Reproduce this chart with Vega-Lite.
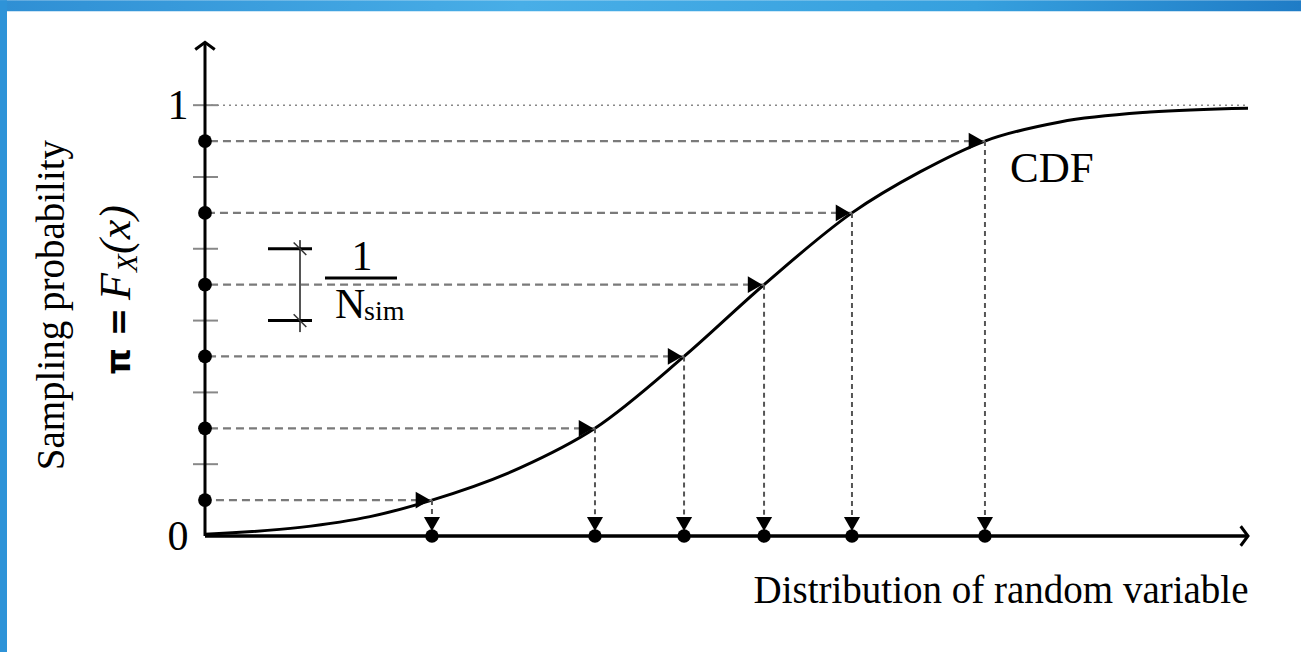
{
  "$schema": "https://vega.github.io/schema/vega-lite/v6.json",
  "autosize": "none",
  "width": 1043,
  "height": 517,
  "padding": {"left": 205, "top": 19, "right": 53, "bottom": 116},
  "background": "white",
  "config": {
    "view": {"stroke": null},
    "axis": {"grid": false, "ticks": false, "domain": false},
    "text": {"font": "Liberation Serif", "color": "black"}
  },
  "data": {"values": [{"label": "annotation"}]},
  "datasets": {
    "samples": [
      {"x": 2.176, "p": 0.0833},
      {"x": 3.739, "p": 0.25},
      {"x": 4.593, "p": 0.4167},
      {"x": 5.36, "p": 0.5833},
      {"x": 6.203, "p": 0.75},
      {"x": 7.478, "p": 0.9167}
    ],
    "cdf": [
      {"x": 0, "p": 0.004},
      {"x": 0.911, "p": 0.02},
      {"x": 1.582, "p": 0.045},
      {"x": 2.176, "p": 0.0833},
      {"x": 3.02, "p": 0.158},
      {"x": 3.739, "p": 0.25},
      {"x": 4.593, "p": 0.4167},
      {"x": 5.36, "p": 0.5833},
      {"x": 6.203, "p": 0.75},
      {"x": 6.855, "p": 0.845},
      {"x": 7.478, "p": 0.9167},
      {"x": 8.198, "p": 0.961},
      {"x": 9.06, "p": 0.984},
      {"x": 10, "p": 0.993}
    ],
    "ticks": [
      {"p": 0.1667}, {"p": 0.3333}, {"p": 0.5}, {"p": 0.6667}, {"p": 0.8333}, {"p": 1}
    ],
    "bracket": [
      {"p": 0.6667}, {"p": 0.5}
    ]
  },
  "layer": [
    {
      "mark": {"type": "rect", "color": {"gradient": "linear", "stops": [
        {"offset": 0, "color": "#2f8fd4"},
        {"offset": 0.4, "color": "#48aee7"},
        {"offset": 0.75, "color": "#36a0de"},
        {"offset": 1, "color": "#1f7cc6"}
      ]}},
      "encoding": {
        "x": {"datum": -1.9655, "type": "quantitative"},
        "x2": {"datum": 10.508},
        "y": {"datum": 1.2436, "type": "quantitative"},
        "y2": {"datum": 1.2181}
      }
    },
    {
      "mark": {"type": "rect", "color": "#2e93d8"},
      "encoding": {
        "x": {"datum": -1.9655, "type": "quantitative"},
        "x2": {"datum": -1.8984},
        "y": {"datum": 1.2436, "type": "quantitative"},
        "y2": {"datum": -0.2691}
      }
    },
    {
      "data": {"name": "cdf"},
      "mark": {"type": "line", "color": "black", "strokeWidth": 3, "interpolate": "monotone"},
      "encoding": {
        "x": {
          "field": "x", "type": "quantitative",
          "scale": {"domain": [0, 10], "nice": false, "zero": false},
          "axis": {
            "labels": false,
            "title": "Distribution of random variable",
            "titleAnchor": "end",
            "titleFont": "Liberation Serif",
            "titleFontSize": 39,
            "titleFontWeight": "normal",
            "titleColor": "black",
            "titlePadding": 35
          }
        },
        "y": {
          "field": "p", "type": "quantitative",
          "scale": {"domain": [0, 1.2], "nice": false, "zero": false},
          "axis": {
            "values": [0, 1],
            "format": "d",
            "title": null,
            "labelFont": "Liberation Serif",
            "labelFontSize": 42,
            "labelColor": "black",
            "labelPadding": 17
          }
        }
      }
    },
    {
      "mark": {"type": "rule", "color": "#888888", "strokeWidth": 1.5, "strokeDash": [2, 4]},
      "encoding": {
        "x": {"datum": 0, "type": "quantitative"},
        "x2": {"datum": 10},
        "y": {"datum": 1, "type": "quantitative"}
      }
    },
    {
      "data": {"name": "samples"},
      "mark": {"type": "rule", "color": "#7a7a7a", "strokeWidth": 2.2, "strokeDash": [8, 5]},
      "encoding": {
        "x": {"field": "x", "type": "quantitative"},
        "x2": {"datum": 0},
        "y": {"field": "p", "type": "quantitative"}
      }
    },
    {
      "data": {"name": "samples"},
      "mark": {"type": "rule", "color": "#555555", "strokeWidth": 2, "strokeDash": [5, 4]},
      "encoding": {
        "x": {"field": "x", "type": "quantitative"},
        "y": {"field": "p", "type": "quantitative"},
        "y2": {"datum": 0.02}
      }
    },
    {
      "data": {"name": "ticks"},
      "mark": {"type": "rule", "color": "#888888", "strokeWidth": 2, "xOffset": -12, "x2Offset": 13},
      "encoding": {
        "x": {"datum": 0, "type": "quantitative"},
        "x2": {"datum": 0},
        "y": {"field": "p", "type": "quantitative"}
      }
    },
    {
      "mark": {"type": "rule", "color": "black", "strokeWidth": 3},
      "encoding": {
        "x": {"datum": 0, "type": "quantitative"},
        "y": {"datum": 0, "type": "quantitative"},
        "y2": {"datum": 1.146}
      }
    },
    {
      "mark": {"type": "rule", "color": "black", "strokeWidth": 3.5},
      "encoding": {
        "x": {"datum": 0, "type": "quantitative"},
        "x2": {"datum": 10},
        "y": {"datum": 0, "type": "quantitative"}
      }
    },
    {
      "mark": {"type": "point", "shape": "M-1,0.75L0,0L1,0.75", "filled": false, "stroke": "black", "strokeWidth": 3, "size": 380, "opacity": 1},
      "encoding": {
        "x": {"datum": 0, "type": "quantitative"},
        "y": {"datum": 1.146, "type": "quantitative"}
      }
    },
    {
      "mark": {"type": "point", "shape": "M-0.75,-1L0,0L-0.75,1", "filled": false, "stroke": "black", "strokeWidth": 3, "size": 380, "opacity": 1},
      "encoding": {
        "x": {"datum": 10, "type": "quantitative"},
        "y": {"datum": 0, "type": "quantitative"}
      }
    },
    {
      "data": {"name": "samples"},
      "mark": {"type": "point", "shape": "triangle-right", "filled": true, "color": "black", "size": 280, "xOffset": -9, "opacity": 1},
      "encoding": {
        "x": {"field": "x", "type": "quantitative"},
        "y": {"field": "p", "type": "quantitative"}
      }
    },
    {
      "data": {"name": "samples"},
      "mark": {"type": "point", "shape": "triangle-down", "filled": true, "color": "black", "size": 260, "yOffset": -12, "opacity": 1},
      "encoding": {
        "x": {"field": "x", "type": "quantitative"},
        "y": {"datum": 0, "type": "quantitative"}
      }
    },
    {
      "data": {"name": "samples"},
      "mark": {"type": "point", "shape": "circle", "filled": true, "color": "black", "size": 180, "opacity": 1},
      "encoding": {
        "x": {"field": "x", "type": "quantitative"},
        "y": {"datum": 0, "type": "quantitative"}
      }
    },
    {
      "data": {"name": "samples"},
      "mark": {"type": "point", "shape": "circle", "filled": true, "color": "black", "size": 190, "opacity": 1},
      "encoding": {
        "x": {"datum": 0, "type": "quantitative"},
        "y": {"field": "p", "type": "quantitative"}
      }
    },
    {
      "mark": {"type": "rule", "color": "#555555", "strokeWidth": 2},
      "encoding": {
        "x": {"datum": 0.9108, "type": "quantitative"},
        "y": {"datum": 0.6868, "type": "quantitative"},
        "y2": {"datum": 0.4733}
      }
    },
    {
      "data": {"name": "bracket"},
      "mark": {"type": "rule", "color": "black", "strokeWidth": 3},
      "encoding": {
        "x": {"datum": 0.604, "type": "quantitative"},
        "x2": {"datum": 1.0259},
        "y": {"field": "p", "type": "quantitative"}
      }
    },
    {
      "data": {"name": "bracket"},
      "mark": {"type": "point", "shape": "M-1,-1L1,1", "filled": false, "stroke": "#333333", "strokeWidth": 1.5, "size": 160, "opacity": 1},
      "encoding": {
        "x": {"datum": 0.9108, "type": "quantitative"},
        "y": {"field": "p", "type": "quantitative"}
      }
    },
    {
      "mark": {"type": "rule", "color": "black", "strokeWidth": 3},
      "encoding": {
        "x": {"datum": 1.1505, "type": "quantitative"},
        "x2": {"datum": 1.8408},
        "y": {"datum": 0.5986, "type": "quantitative"}
      }
    },
    {
      "mark": {"type": "text", "fontSize": 42, "align": "center", "baseline": "alphabetic"},
      "encoding": {
        "x": {"datum": 1.505, "type": "quantitative"},
        "y": {"datum": 0.6172, "type": "quantitative"},
        "text": {"value": "1"}
      }
    },
    {
      "mark": {"type": "text", "fontSize": 42, "align": "left", "baseline": "alphabetic"},
      "encoding": {
        "x": {"datum": 1.2464, "type": "quantitative"},
        "y": {"datum": 0.5058, "type": "quantitative"},
        "text": {"value": "N"}
      }
    },
    {
      "mark": {"type": "text", "fontSize": 28, "align": "left", "baseline": "alphabetic"},
      "encoding": {
        "x": {"datum": 1.5244, "type": "quantitative"},
        "y": {"datum": 0.5012, "type": "quantitative"},
        "text": {"value": "sim"}
      }
    },
    {
      "mark": {"type": "text", "fontSize": 43, "align": "left", "baseline": "alphabetic"},
      "encoding": {
        "x": {"datum": 7.718, "type": "quantitative"},
        "y": {"datum": 0.8213, "type": "quantitative"},
        "text": {"value": "CDF"}
      }
    },
    {
      "mark": {"type": "text", "fontSize": 39, "align": "center", "baseline": "alphabetic", "angle": 270},
      "encoding": {
        "x": {"datum": -1.352, "type": "quantitative"},
        "y": {"datum": 0.536, "type": "quantitative"},
        "text": {"value": "Sampling probability"}
      }
    },
    {
      "mark": {"type": "text", "font": "DejaVu Sans", "fontSize": 34, "fontWeight": "bold", "align": "left", "baseline": "alphabetic", "angle": 270},
      "encoding": {
        "x": {"datum": -0.719, "type": "quantitative"},
        "y": {"datum": 0.3735, "type": "quantitative"},
        "text": {"value": "π ="}
      }
    },
    {
      "mark": {"type": "text", "fontSize": 44, "fontStyle": "italic", "align": "left", "baseline": "alphabetic", "angle": 270},
      "encoding": {
        "x": {"datum": -0.719, "type": "quantitative"},
        "y": {"datum": 0.5476, "type": "quantitative"},
        "text": {"value": "F"}
      }
    },
    {
      "mark": {"type": "text", "fontSize": 29, "fontStyle": "italic", "align": "left", "baseline": "alphabetic", "angle": 270},
      "encoding": {
        "x": {"datum": -0.652, "type": "quantitative"},
        "y": {"datum": 0.6125, "type": "quantitative"},
        "text": {"value": "X"}
      }
    },
    {
      "mark": {"type": "text", "fontSize": 44, "fontStyle": "italic", "align": "left", "baseline": "alphabetic", "angle": 270},
      "encoding": {
        "x": {"datum": -0.719, "type": "quantitative"},
        "y": {"datum": 0.6545, "type": "quantitative"},
        "text": {"value": "(x)"}
      }
    }
  ]
}
